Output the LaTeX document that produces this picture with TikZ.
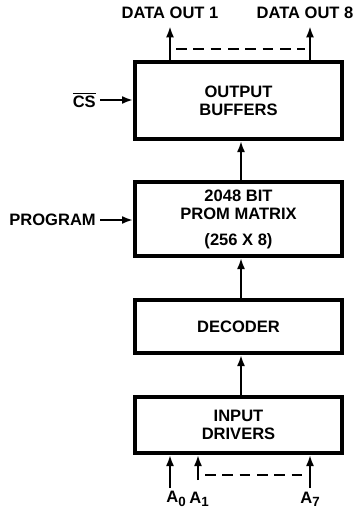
\documentclass[tikz,border=0pt]{standalone}
\usepackage{fontspec}
\setmainfont{Liberation Sans}
\usetikzlibrary{arrows.meta}
\newcommand{\mysub}[1]{\raisebox{-2.5pt}{\fontsize{10}{10}\selectfont #1}}
\begin{document}
\begin{tikzpicture}[x=0.75pt,y=-0.75pt,
  font=\bfseries\fontsize{12.4}{13.5}\selectfont,
  blk/.style={draw, line width=2.5pt, minimum width=155.25pt, align=center, inner sep=0pt},
  conn/.style={line width=1.7pt, -{Latex[length=8.5pt,width=6pt]}},
  dsh/.style={line width=1.6pt, dash pattern=on 8pt off 5pt},
  lbl/.style={inner sep=0pt, anchor=center}]
\useasboundingbox (0,0) rectangle (360,510);
% blocks
\node[blk, minimum height=57.75pt] (ob) at (238.5,100.5) {OUTPUT\\BUFFERS};
\node[blk, minimum height=55.5pt] (pm) at (238.5,219) {2048 BIT\\PROM MATRIX\\[6pt](256 X 8)};
\node[blk, minimum height=39.75pt] (dec) at (238.5,326.5) {DECODER};
\node[blk, minimum height=42pt] (id) at (238.5,425) {INPUT\\DRIVERS};
% vertical flow
\draw[conn] (241,0 |- id.north) coordinate (a) -- (a |- dec.south);
\draw[conn] (241,0 |- dec.north) coordinate (b) -- (b |- pm.south);
\draw[conn] (241,0 |- pm.north) coordinate (c) -- (c |- ob.south);
% outputs
\coordinate (o1) at (170,26);
\coordinate (o8) at (310,26);
\draw[conn] (ob.north -| o1) -- (o1);
\draw[conn] (ob.north -| o8) -- (o8);
\coordinate (t1) at (176,49);
\coordinate (t2) at (305,49);
\draw[dsh] (t1) -- (t2);
\node[lbl] (lo1) at (170,13) {DATA OUT 1};
\node[lbl] (lo8) at (305,13) {DATA OUT 8};
% side inputs
\node[lbl, anchor=east] (cs) at (96,100) {$\overline{\hbox{CS}}$};
\draw[conn] (cs.east) ++(4,0) -- (ob.west |- cs.east);
\node[lbl, anchor=east] (prog) at (96,220) {PROGRAM};
\draw[conn] (prog.east) ++(4,0) -- (pm.west |- prog.east);
% address inputs
\coordinate (i0) at (170,488);
\coordinate (i1) at (198,480);
\coordinate (i7) at (310,488);
\draw[conn] (i0) -- (i0 |- id.south);
\draw[conn] (i1) -- (i1 |- id.south);
\draw[conn] (i7) -- (i7 |- id.south);
\coordinate (b1) at (205,475);
\coordinate (b2) at (306,475);
\draw[dsh] (b1) -- (b2);
\node[lbl] (la0) at (176,499) {A\mysub{0}};
\node[lbl] (la1) at (199,499) {A\mysub{1}};
\node[lbl] (la7) at (310,499) {A\mysub{7}};
\end{tikzpicture}
\end{document}
